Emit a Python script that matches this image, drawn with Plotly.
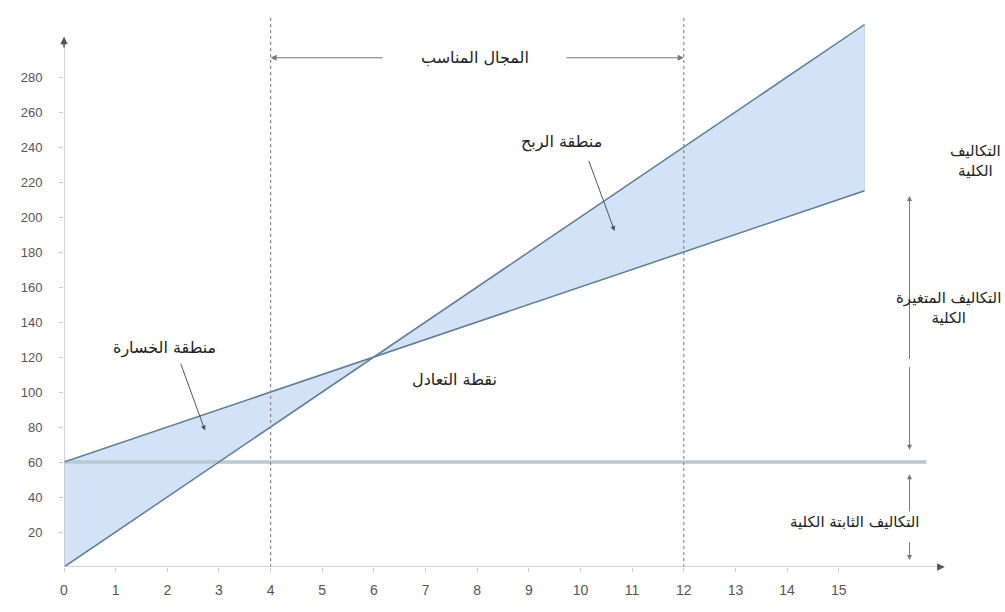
import plotly.graph_objects as go

# ---- data ----
units = [0, 15.5]
revenue = [0, 310]
total_cost = [60, 215]
fixed_x = [0, 16.7]
fixed_cost = [60, 60]
range_bounds = [4, 12]
x_ticks = list(range(0, 16))
y_ticks = list(range(20, 281, 20))

AR = "DejaVu Sans"
LINE = "#5e7f95"
FILL = "rgba(196,216,244,0.75)"

fig = go.Figure()

# shaded area between revenue and total cost
fig.add_trace(go.Scatter(
    x=units + units[::-1], y=revenue + total_cost[::-1],
    fill="toself", fillcolor=FILL, line=dict(color="rgba(200,215,235,1)", width=1),
    mode="lines", hoverinfo="skip", showlegend=False))

# fixed cost line
fig.add_trace(go.Scatter(x=fixed_x, y=fixed_cost, mode="lines",
                         line=dict(color="#b9c9d0", width=3.5), showlegend=False))
# revenue and total cost lines
fig.add_trace(go.Scatter(x=units, y=revenue, mode="lines",
                         line=dict(color=LINE, width=1.5), showlegend=False))
fig.add_trace(go.Scatter(x=units, y=total_cost, mode="lines",
                         line=dict(color=LINE, width=1.5), showlegend=False))

# vertical dashed boundaries
for b in range_bounds:
    fig.add_shape(type="line", x0=b, x1=b, y0=0, y1=315, xref="x", yref="y",
                  line=dict(color="#8a8a8a", width=1.2, dash="dot"))

# axes lines
fig.add_shape(type="line", x0=0, x1=17.05, y0=0, y1=0, line=dict(color="#c4c4c4", width=1.5))
fig.add_shape(type="line", x0=0, x1=0, y0=0, y1=303, line=dict(color="#c4c4c4", width=1.5))

anns = []
def arrow(x, y, ax, ay, color="#666", width=1, head=2, size=1):
    anns.append(dict(x=x, y=y, ax=ax, ay=ay, xref="x", yref="y", axref="x", ayref="y",
                     text="", showarrow=True, arrowhead=head, arrowsize=size,
                     arrowwidth=width, arrowcolor=color))

def label(x, y, text, size=16, xanchor="center", bg="rgba(255,255,255,0)"):
    anns.append(dict(x=x, y=y, xref="x", yref="y", text=text, showarrow=False,
                     font=dict(family=AR, size=size, color="#222"), xanchor=xanchor,
                     bgcolor=bg))

# axis arrowheads
arrow(0, 303, 0, 296, color="#555", width=1.5, head=2)
arrow(17.05, 0, 16.9, 0, color="#555", width=1.5, head=2)

# suitable range arrow
arrow(4, 291, 6.2, 291, color="#777", width=1.2)
arrow(12, 291, 9.7, 291, color="#777", width=1.2)
label(7.95, 291, "المجال المناسب")

# region labels
label(9.64, 243, "منطقة الربح")
arrow(10.66, 192, 10.15, 233, color="#555", width=1)
label(1.95, 125, "منطقة الخسارة")
arrow(2.73, 78, 2.25, 117, color="#555", width=1)
label(7.57, 107, "نقطة التعادل")

# right side cost labels
label(18.18, 232, "التكاليف<br>الكلية", size=15, xanchor="right")
arrow(16.37, 212, 16.37, 118, color="#777", width=1)
label(18.18, 148, "التكاليف المتغيرة<br>الكلية", size=15, xanchor="right")
arrow(16.37, 67, 16.37, 115, color="#777", width=1)
arrow(16.37, 53, 16.37, 25, color="#777", width=1)
label(15.31, 26, "التكاليف الثابتة الكلية", size=15, bg="white")
arrow(16.37, 4, 16.37, 15, color="#777", width=1)

fig.update_layout(
    width=1005, height=612,
    margin=dict(l=64, r=1, t=7, b=45),
    paper_bgcolor="white", plot_bgcolor="white",
    annotations=anns,
    xaxis=dict(range=[0, 18.2], tickvals=x_ticks, ticktext=[str(v) for v in x_ticks],
               showgrid=False, zeroline=False, showline=False,
               ticks="outside", ticklen=4, tickcolor="#cccccc",
               ticklabelstandoff=6,
               tickfont=dict(family="Liberation Sans", size=14, color="#555")),
    yaxis=dict(range=[0, 320], tickvals=y_ticks, ticktext=[str(v) for v in y_ticks],
               showgrid=False, zeroline=False, showline=False,
               ticks="outside", ticklen=4, tickcolor="#cccccc",
               ticklabelstandoff=14,
               tickfont=dict(family="Liberation Sans", size=13, color="#555")),
)

fig.write_html("out.html")
